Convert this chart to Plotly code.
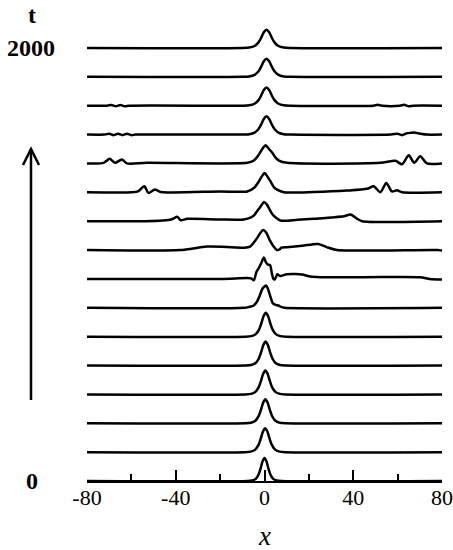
import plotly.graph_objects as go

# ---------------- data ----------------
T_LABELS = ["0", "2000"]          # first and last time labels
N_CURVES = 16                     # snapshots, t = 0 ... 2000 (bottom to top)

X_TICKS = [-80, -40, 0, 40, 80]
X_TICK_TEXT = ["-80", "-40", "0", "40", "80"]
X_MINOR = [-60, -20, 20, 60]

# shared soliton profile (offset from centre, fraction of peak height)
PEAK_DX = [-9, -6.5, -4.5, -3, -2, -1, 0, 1, 2, 3, 4.5, 6.5, 9]
PEAK_FRAC = [0, 0.022, 0.106, 0.305, 0.56, 0.86, 1, 0.86, 0.56, 0.305, 0.106, 0.022, 0]

# clean snapshots: index, centre, height, width factor
CLEAN_INDEX = [0, 1, 2, 3, 4, 5, 12, 13, 14, 15]
CLEAN_CENTER = [0.0, 0.3, 0.4, 0.4, 0.5, 0.6, 0.9, 0.9, 0.9, 0.9]
CLEAN_HEIGHT = [0.80, 0.83, 0.83, 0.83, 0.83, 0.83, 0.63, 0.63, 0.63, 0.63]
CLEAN_WIDTH = [0.85, 1.0, 1.0, 1.0, 1.0, 1.0, 1.2, 1.2, 1.2, 1.2]

# small radiation ripples on snapshots 12 and 13
RIPPLE_12_X = [-72, -70, -68, -66, -64, -62, -60, -58, 57, 60, 62, 64, 66, 67.5, 69, 71, 73]
RIPPLE_12_Y = [0, 0.03, -0.02, 0.03, -0.02, 0.03, -0.02, 0, 0, 0.03, -0.02, 0.04, 0.06, 0.07, 0.05, 0.02, 0]
RIPPLE_13_X = [-71, -69, -67, -65, -63, -61, 49, 51, 53, 61, 63, 65, 67]
RIPPLE_13_Y = [0, 0.025, -0.02, 0.025, -0.02, 0, 0, 0.03, 0, 0, 0.03, -0.02, 0]

# perturbed snapshots, traced point by point
C6_X = [-80, -9, -7, -5, -3.5, -2, -1, 0, 0.8, 1.8, 2.8, 3.8, 5, 6.3, 7.5, 9, 80]
C6_Y = [0, 0, 0.03, 0.07, 0.2, 0.45, 0.65, 0.74, 0.77, 0.6, 0.35, 0.15, 0.1, 0.08, 0.03, 0, 0]

C7_X = [-80, -20, -8, -6, -4.8, -3.6, -2.6, -1.5, -0.3, 0.5, 1.4, 2.5, 3.3, 4.0, 4.6,
        5.8, 7, 10, 14, 17, 20.7, 25, 45, 70, 74.5, 80]
C7_Y = [0, 0, 0.03, 0.02, -0.05, 0.25, 0.37, 0.54, 0.74, 0.6, 0.5, 0.48, 0.2, 0.0, -0.02,
        0.16, 0.1, 0.16, 0.17, 0.15, 0.08, 0.06, 0.06, 0.06, 0.0, -0.02]

C8_X = [-80, -38, -26, -15, -9, -6.5, -4.9, -3.2, -1.8, -0.6, 0.8, 2.3, 4.1, 5.6, 6.8,
        7.6, 10, 17, 24.3, 28, 32.6, 78, 80]
C8_Y = [0, 0, 0.12, 0.1, 0.08, 0.12, 0.25, 0.43, 0.6, 0.69, 0.6, 0.35, 0.12, 0.0, 0.02,
        0.08, 0.1, 0.15, 0.21, 0.1, 0, 0, -0.02]

C9_X = [-80, -53.5, -42, -39.3, -37.8, -34.8, -20, -9.3, -6.3, -4.5, -3.3, -1.8, -0.3, 1,
        2, 3.2, 4.3, 7.3, 15, 22.3, 30, 35.8, 38.8, 41.8, 44, 80]
C9_Y = [0, 0, 0.06, 0.15, 0.03, 0.08, 0.06, 0.06, 0.12, 0.22, 0.35, 0.5, 0.66, 0.58,
        0.45, 0.28, 0.18, 0.02, 0.05, 0.08, 0.13, 0.17, 0.23, 0.08, 0, 0]

C10_X = [-80, -60, -57, -54.2, -52.3, -49.4, -46.7, -20, -7.8, -4.8, -2.5, -1.2, 0, 1.3,
         2.7, 4.2, 5.7, 8.7, 22.2, 37.2, 46.2, 49.2, 52.2, 54.9, 57.4, 59.7, 62, 80]
C10_Y = [0, 0, 0.03, 0.21, -0.02, 0.1, 0.01, 0.03, 0.03, 0.15, 0.38, 0.55, 0.67, 0.55,
         0.38, 0.18, 0.09, 0, 0.01, 0.06, 0.12, 0.21, 0, 0.32, 0.03, 0.07, 0, 0]

C11_X = [-80, -72.5, -69.8, -67.3, -64.3, -62, -53, -7.8, -4.8, -2.5, -1, 0.5, 2, 3.5, 5,
         6.5, 10.2, 52.2, 59, 62, 65, 67.5, 70.2, 73.2, 80]
C11_Y = [0, 0.02, 0.16, 0.02, 0.14, 0, 0.02, 0.02, 0.1, 0.31, 0.5, 0.63, 0.5, 0.37, 0.2,
         0.1, 0.02, 0.02, 0.09, -0.03, 0.28, 0.02, 0.25, 0, 0]

# ---------------- assemble curves ----------------
curves = {}
for idx, c, h, w in zip(CLEAN_INDEX, CLEAN_CENTER, CLEAN_HEIGHT, CLEAN_WIDTH):
    pts = [(-80, 0.0), (80, 0.0)]
    pts += [(c + dx * w, h * f) for dx, f in zip(PEAK_DX, PEAK_FRAC)]
    if idx == 12:
        pts += list(zip(RIPPLE_12_X, RIPPLE_12_Y))
    if idx == 13:
        pts += list(zip(RIPPLE_13_X, RIPPLE_13_Y))
    pts.sort()
    curves[idx] = ([p[0] for p in pts], [p[1] for p in pts])

curves[6] = (C6_X, C6_Y)
curves[7] = (C7_X, C7_Y)
curves[8] = (C8_X, C8_Y)
curves[9] = (C9_X, C9_Y)
curves[10] = (C10_X, C10_Y)
curves[11] = (C11_X, C11_Y)

fig = go.Figure()
for i in range(N_CURVES):
    xs, ys = curves[i]
    fig.add_trace(go.Scatter(
        x=xs, y=[i + v for v in ys], mode="lines",
        line=dict(color="black", width=2.5, shape="spline", smoothing=0.7),
        hoverinfo="skip", showlegend=False, cliponaxis=False,
    ))

# ---------------- layout ----------------
W, H = 453, 550
ML, MR, MT, MB = 87, 11, 20, 69
PW, PH = W - ML - MR, H - MT - MB
YTOP = PH / 28.87

def px_x(px):
    return (px - ML) / PW

def px_y(py):
    return (H - MB - py) / PH

SERIF = "Liberation Serif, Times New Roman, serif"

fig.update_layout(
    width=W, height=H,
    margin=dict(l=ML, r=MR, t=MT, b=MB, autoexpand=False),
    paper_bgcolor="white", plot_bgcolor="white",
    xaxis=dict(
        range=[-80, 80], showgrid=False, zeroline=False, automargin=False,
        showline=True, linecolor="black", linewidth=2.2,
        ticks="inside", ticklen=11, tickwidth=2.2, tickcolor="black",
        tickvals=X_TICKS, ticktext=X_TICK_TEXT, ticklabelstandoff=-5,
        tickfont=dict(family=SERIF, size=22, color="black"),
        minor=dict(tickvals=X_MINOR, ticks="inside", ticklen=7,
                   tickwidth=2.2, tickcolor="black"),
    ),
    yaxis=dict(range=[0, YTOP], visible=False, automargin=False),
    font=dict(family=SERIF, color="black"),
)

# vertical time arrow
fig.add_shape(type="line", xref="paper", yref="paper",
              x0=px_x(31), x1=px_x(31), y0=px_y(400), y1=px_y(149),
              line=dict(color="black", width=2.5))
fig.add_shape(type="path", xref="paper", yref="paper",
              path=f"M {px_x(23)} {px_y(165)} L {px_x(31)} {px_y(149)} L {px_x(39)} {px_y(165)}",
              line=dict(color="black", width=2.5))

# labels
fig.add_annotation(text="<b>t</b>", xref="paper", yref="paper",
                   x=px_x(32), y=px_y(15), showarrow=False,
                   font=dict(family=SERIF, size=24, color="black"),
                   xanchor="center", yanchor="middle")
fig.add_annotation(text=f"<b>{T_LABELS[1]}</b>", xref="paper", yref="y",
                   x=px_x(31), y=N_CURVES - 1, showarrow=False,
                   font=dict(family=SERIF, size=24, color="black"),
                   xanchor="center", yanchor="middle")
fig.add_annotation(text=f"<b>{T_LABELS[0]}</b>", xref="paper", yref="y",
                   x=px_x(32), y=0, showarrow=False,
                   font=dict(family=SERIF, size=24, color="black"),
                   xanchor="center", yanchor="middle")
fig.add_annotation(text="<i>x</i>", xref="paper", yref="paper",
                   x=px_x(264), y=px_y(536), showarrow=False,
                   font=dict(family=SERIF, size=27, color="black"),
                   xanchor="center", yanchor="middle")

# remove the browser's default page margin so the figure sits at the window origin
fig.write_html("out.html", config={"displayModeBar": False},
               post_script="document.body.style.margin='0';")
